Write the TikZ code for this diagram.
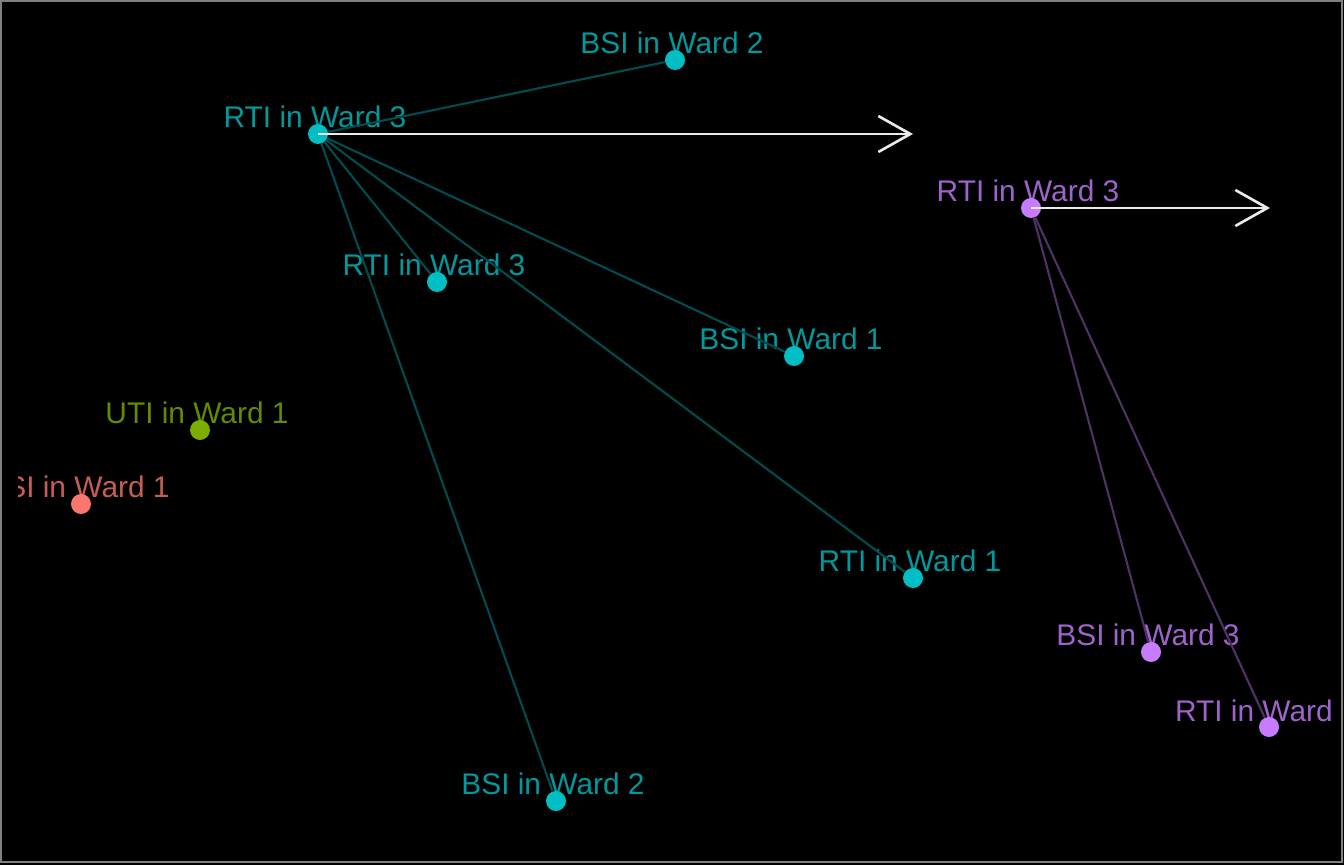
\documentclass[tikz,border=0pt]{standalone}
\usepackage{fontspec}
\setmainfont{Liberation Sans}
\usepackage{xcolor}
\usepackage{tikz}
\usetikzlibrary{arrows.meta,positioning,calc}

\definecolor{cyannode}{HTML}{00BFC4}
\definecolor{greennode}{HTML}{7CAE00}
\definecolor{rednode}{HTML}{F8766D}
\definecolor{purplenode}{HTML}{C77CFF}

\pgfdeclarelayer{bg}
\pgfsetlayers{bg,main}

\begin{document}
\begin{tikzpicture}[x=0.02cm, y=-0.02cm, edge/.style = {line width=1.2pt}, node distance=0cm]
		\tikzset{dot/.style={circle,inner sep=0pt,minimum size=0.4cm}}
		\tikzset{lbl/.style={inner sep=0pt,outer sep=0pt,font=\fontsize{17}{20}\selectfont}}
		\tikzset{flow/.style={draw=white!92!black, line width=1.5pt, -{Straight Barb[length=0.64cm,width=0.72cm]}}}

		\useasboundingbox (0,0) rectangle (1344,865);

		% Infections
		\node[dot, fill=cyannode] (rtiA) at (318,134) {};
		\node[dot, fill=cyannode] (bsiA) at (675,60) {};
		\node[dot, fill=cyannode] (rtiB) at (437,282) {};
		\node[dot, fill=cyannode] (bsiB) at (794,356) {};
		\node[dot, fill=cyannode] (rtiC) at (913,578) {};
		\node[dot, fill=cyannode] (bsiC) at (556,801) {};
		\node[dot, fill=greennode] (utiA) at (200,430) {};
		\node[dot, fill=rednode] (bsiD) at (81,504) {};
		\node[dot, fill=purplenode] (rtiD) at (1031,208) {};
		\node[dot, fill=purplenode] (bsiE) at (1151,652) {};
		\node[dot, fill=purplenode] (rtiE) at (1269,727) {};

		% Labels
		\begin{pgfonlayer}{bg}
		\fill[black] (0,0) rectangle (1344,865);
		\draw[gray, line width=0.8pt] (1,1) rectangle (1342,862);
		\begin{scope}
		\clip (18,0) rectangle (1334,865);
		\node[lbl, text=cyannode!80!black, above=-0.09cm of rtiA, xshift=-0.06cm] (rtiAlbl) {RTI in Ward 3};
		\node[lbl, text=cyannode!80!black, above=-0.09cm of bsiA, xshift=-0.06cm] (bsiAlbl) {BSI in Ward 2};
		\node[lbl, text=cyannode!80!black, above=-0.09cm of rtiB, xshift=-0.06cm] (rtiBlbl) {RTI in Ward 3};
		\node[lbl, text=cyannode!80!black, above=-0.09cm of bsiB, xshift=-0.06cm] (bsiBlbl) {BSI in Ward 1};
		\node[lbl, text=cyannode!80!black, above=-0.09cm of rtiC, xshift=-0.06cm] (rtiClbl) {RTI in Ward 1};
		\node[lbl, text=cyannode!80!black, above=-0.09cm of bsiC, xshift=-0.06cm] (bsiClbl) {BSI in Ward 2};
		\node[lbl, text=greennode!80!black, above=-0.09cm of utiA, xshift=-0.06cm] (utiAlbl) {UTI in Ward 1};
		\node[lbl, text=rednode!80!black, above=-0.09cm of bsiD, xshift=-0.06cm] (bsiDlbl) {BSI in Ward 1};
		\node[lbl, text=purplenode!80!black, above=-0.09cm of rtiD, xshift=-0.06cm] (rtiDlbl) {RTI in Ward 3};
		\node[lbl, text=purplenode!80!black, above=-0.09cm of bsiE, xshift=-0.06cm] (bsiElbl) {BSI in Ward 3};
		\node[lbl, text=purplenode!80!black, anchor=base west] (rtiElbl) at (1175,721.5) {RTI in Ward};
		\end{scope}
		\end{pgfonlayer}

		% Edges
		\draw [edge, draw=cyannode!40!black] (rtiA) -- (bsiA);
		\draw [edge, draw=cyannode!40!black] (rtiA) -- (rtiB);
		\draw [edge, draw=cyannode!40!black] (rtiA) -- (bsiB);
		\draw [edge, draw=cyannode!40!black] (rtiA) -- (rtiC);
		\draw [edge, draw=cyannode!40!black] (rtiA) -- (bsiC);

		\draw [edge, draw=purplenode!40!black] (rtiD) -- (bsiE);
		\draw [edge, draw=purplenode!40!black] (rtiD) -- (rtiE);

		% Arrows
		\coordinate (tipA) at (913,134);
		\coordinate (tipD) at (1270,208);
		\draw [flow] (rtiA.center) -- (tipA);
		\draw [flow] (rtiD.center) -- (tipD);

\end{tikzpicture}
\end{document}
